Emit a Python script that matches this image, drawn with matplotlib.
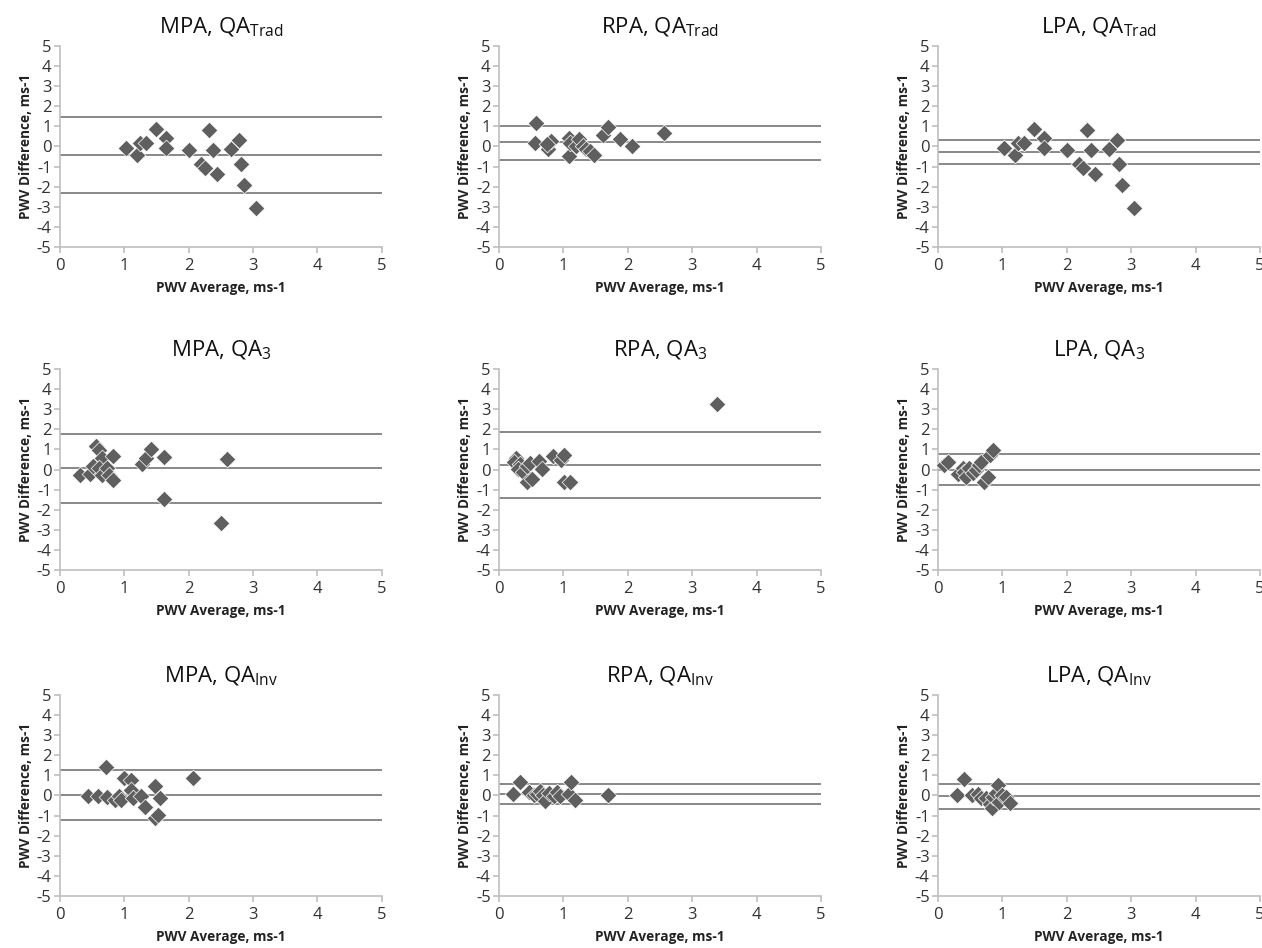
import matplotlib
matplotlib.use("Agg")
import matplotlib.pyplot as plt

plt.rcParams['font.family'] = ['Open Sans', 'DejaVu Sans']
plt.rcParams['mathtext.fontset'] = 'custom'
plt.rcParams['mathtext.rm'] = 'Open Sans'
plt.rcParams['axes.unicode_minus'] = False

# MPA, QA_Trad
mpa_trad_x = [1.03, 1.19, 1.24, 1.34, 1.49, 1.65, 1.65, 2.00, 2.19, 2.25, 2.32, 2.38, 2.44, 2.66, 2.78, 2.81, 2.86, 3.04]
mpa_trad_y = [-0.10, -0.43, 0.15, 0.18, 0.88, 0.42, -0.10, -0.18, -0.85, -1.06, 0.84, -0.18, -1.35, -0.15, 0.30, -0.85, -1.90, -3.06]
mpa_trad_lines = [1.48, -0.42, -2.33]

# RPA, QA_Trad
rpa_trad_x = [0.58, 0.56, 0.76, 0.81, 0.75, 1.09, 1.09, 1.11, 1.20, 1.25, 1.30, 1.35, 1.41, 1.47, 1.61, 1.70, 1.88, 2.07, 2.57]
rpa_trad_y = [1.18, 0.18, -0.15, 0.27, 0.10, -0.45, 0.40, 0.18, 0.02, 0.35, 0.02, -0.15, -0.23, -0.42, 0.55, 0.97, 0.38, 0.02, 0.65]
rpa_trad_lines = [1.03, 0.20, -0.66]

# LPA, QA_Trad (same scatter as MPA in the source figure)
lpa_trad_x = [1.03, 1.19, 1.24, 1.34, 1.49, 1.65, 1.65, 2.00, 2.19, 2.25, 2.32, 2.38, 2.44, 2.66, 2.78, 2.81, 2.86, 3.04]
lpa_trad_y = [-0.10, -0.43, 0.15, 0.18, 0.88, 0.42, -0.10, -0.18, -0.85, -1.06, 0.84, -0.18, -1.35, -0.15, 0.30, -0.85, -1.90, -3.06]
lpa_trad_lines = [0.34, -0.27, -0.88]

# MPA, QA_3
mpa_3_x = [0.31, 0.47, 0.56, 0.60, 0.65, 0.51, 0.60, 0.65, 0.73, 0.76, 0.83, 0.83, 1.27, 1.33, 1.41, 1.61, 1.61, 2.50, 2.60]
mpa_3_y = [-0.25, -0.20, 1.17, 0.95, 0.58, 0.17, 0.08, -0.25, 0.08, -0.25, 0.65, -0.53, 0.28, 0.58, 1.03, 0.63, -1.47, -2.67, 0.50]
mpa_3_lines = [1.78, 0.10, -1.67]

# RPA, QA_3
rpa_3_x = [0.27, 0.24, 0.33, 0.30, 0.38, 0.43, 0.48, 0.43, 0.51, 0.62, 0.67, 0.84, 0.97, 1.01, 1.01, 1.10, 3.39]
rpa_3_y = [0.55, 0.36, 0.28, 0.03, -0.14, 0.19, 0.33, -0.61, -0.48, 0.45, 0.03, 0.65, 0.49, 0.72, -0.61, -0.63, 3.26]
rpa_3_lines = [1.86, 0.23, -1.40]

# LPA, QA_3
lpa_3_x = [0.09, 0.15, 0.31, 0.38, 0.41, 0.44, 0.48, 0.54, 0.59, 0.63, 0.67, 0.72, 0.77, 0.81, 0.85]
lpa_3_y = [0.23, 0.37, -0.22, 0.07, -0.13, -0.35, 0.07, -0.18, -0.02, 0.23, 0.40, -0.60, -0.35, 0.70, 0.95]
lpa_3_lines = [0.78, 0.0, -0.77]

# MPA, QA_Inv
mpa_inv_x = [0.43, 0.59, 0.71, 0.73, 0.85, 0.91, 0.95, 0.99, 1.11, 1.11, 1.13, 1.26, 1.32, 1.47, 1.47, 1.52, 1.55, 2.07]
mpa_inv_y = [-0.02, -0.02, 1.40, -0.07, -0.23, -0.02, -0.23, 0.88, 0.76, 0.27, -0.15, -0.02, -0.56, 0.48, -1.10, -0.98, -0.12, 0.88]
mpa_inv_lines = [1.28, 0.03, -1.20]

# RPA, QA_Inv
rpa_inv_x = [0.22, 0.33, 0.46, 0.54, 0.59, 0.64, 0.69, 0.72, 0.77, 0.85, 0.90, 0.94, 1.08, 1.12, 1.18, 1.69]
rpa_inv_y = [0.05, 0.66, 0.17, 0.0, 0.08, 0.20, 0.0, -0.30, 0.12, -0.05, 0.17, -0.05, 0.08, 0.68, -0.22, 0.0]
rpa_inv_lines = [0.55, 0.07, -0.41]

# LPA, QA_Inv
lpa_inv_x = [0.30, 0.40, 0.52, 0.62, 0.67, 0.75, 0.80, 0.84, 0.86, 0.90, 0.93, 0.95, 1.00, 1.05, 1.11]
lpa_inv_y = [0.02, 0.80, 0.02, 0.07, -0.15, -0.15, -0.40, -0.61, -0.07, 0.10, 0.51, -0.32, 0.02, -0.07, -0.37]
lpa_inv_lines = [0.58, -0.02, -0.68]

titles = [
    r"MPA, QA$_{\mathregular{Trad}}$", r"RPA, QA$_{\mathregular{Trad}}$", r"LPA, QA$_{\mathregular{Trad}}$",
    r"MPA, QA$_{\mathregular{3}}$", r"RPA, QA$_{\mathregular{3}}$", r"LPA, QA$_{\mathregular{3}}$",
    r"MPA, QA$_{\mathregular{Inv}}$", r"RPA, QA$_{\mathregular{Inv}}$", r"LPA, QA$_{\mathregular{Inv}}$",
]
xs = [mpa_trad_x, rpa_trad_x, lpa_trad_x, mpa_3_x, rpa_3_x, lpa_3_x, mpa_inv_x, rpa_inv_x, lpa_inv_x]
ys = [mpa_trad_y, rpa_trad_y, lpa_trad_y, mpa_3_y, rpa_3_y, lpa_3_y, mpa_inv_y, rpa_inv_y, lpa_inv_y]
hlines = [mpa_trad_lines, rpa_trad_lines, lpa_trad_lines, mpa_3_lines, rpa_3_lines, lpa_3_lines,
          mpa_inv_lines, rpa_inv_lines, lpa_inv_lines]

fig = plt.figure(figsize=(12.62, 9.48), dpi=100)

lefts = [0.0475, 0.3954, 0.7433]
bottoms = [0.7395, 0.3987, 0.0549]
w, h = 0.2551, 0.212

for i in range(9):
    r, c = divmod(i, 3)
    ax = fig.add_axes([lefts[c], bottoms[r], w, h])
    for yv in hlines[i]:
        ax.axhline(yv, color='#7f7f7f', lw=1.3, zorder=1)
    ax.scatter(xs[i], ys[i], marker='D', s=72, color='#5f5f5f',
               edgecolors='white', linewidths=0.5, zorder=3, clip_on=False)
    ax.set_xlim(0, 5)
    ax.set_ylim(-5, 5)
    ax.set_xticks(range(0, 6))
    ax.set_yticks(range(-5, 6))
    for s in ['top', 'right']:
        ax.spines[s].set_visible(False)
    for s in ['left', 'bottom']:
        ax.spines[s].set_color('#bfbfbf')
        ax.spines[s].set_linewidth(1.2)
    ax.tick_params(direction='out', length=4, width=1.2, color='#bfbfbf',
                   labelcolor='#333333', labelsize=12, pad=2)
    ax.tick_params(axis='x', pad=4)
    ax.set_title(titles[i], fontsize=16, pad=9, color='#111111')
    ax.set_xlabel('PWV Average, ms-1', fontsize=9.8, fontweight='bold',
                  color='#222222', labelpad=5)
    ax.set_ylabel('PWV Difference, ms-1', fontsize=9.8, fontweight='bold',
                  color='#222222', labelpad=3)

fig.savefig('out.png', dpi=100)
